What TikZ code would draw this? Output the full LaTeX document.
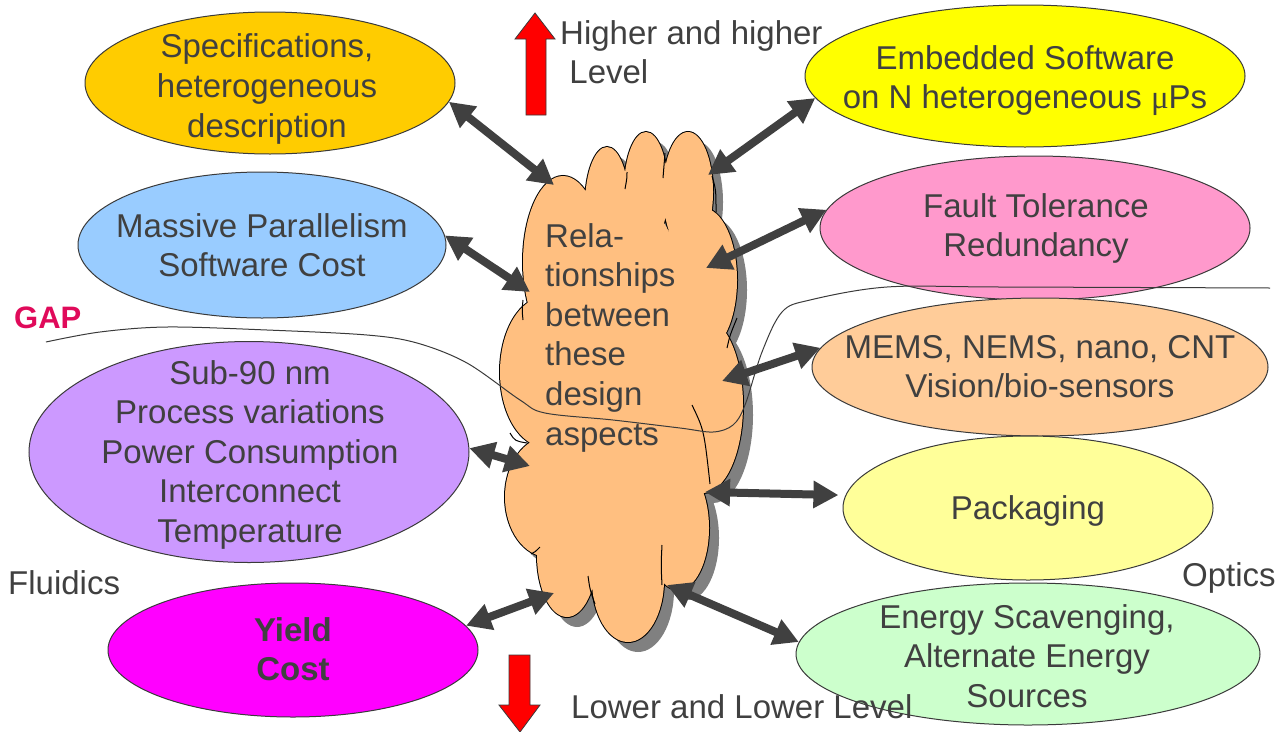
\documentclass[tikz,border=0pt]{standalone}
\usepackage{fontspec}
\setmainfont{Liberation Sans}
\newfontfamily\greekserif{Liberation Serif}
\usetikzlibrary{shapes.geometric,arrows.meta}

\definecolor{txtgray}{HTML}{404040}
\definecolor{edgegray}{HTML}{3A3A3A}
\definecolor{arrgray}{HTML}{404040}
\definecolor{cSpec}{HTML}{FFCC00}
\definecolor{cPar}{HTML}{99CCFF}
\definecolor{cSub}{HTML}{CC99FF}
\definecolor{cYield}{HTML}{FF00FF}
\definecolor{cEmb}{HTML}{FFFF00}
\definecolor{cFault}{HTML}{FF99CC}
\definecolor{cMems}{HTML}{FFCC99}
\definecolor{cPack}{HTML}{FFFF99}
\definecolor{cEnergy}{HTML}{CCFFCC}
\definecolor{cCloud}{HTML}{FFBF80}
\definecolor{cShadow}{HTML}{808080}
\definecolor{cGap}{HTML}{E00A5A}

% union of puffs forming the central cloud
\newcommand\cloudpuffs{%
  (563,262) ellipse [x radius=40pt, y radius=86pt]
  (607,205) ellipse [x radius=22pt, y radius=58pt]
  (646,190) ellipse [x radius=22pt, y radius=58pt]
  (688,192) ellipse [x radius=25pt, y radius=60pt]
  (703,280) ellipse [x radius=34pt, y radius=72pt]
  (703,405) ellipse [x radius=40pt, y radius=88pt]
  (678,528) ellipse [x radius=31pt, y radius=62pt]
  (628,580) ellipse [x radius=36pt, y radius=62pt]
  (567,555) ellipse [x radius=30pt, y radius=62pt]
  (548,497) ellipse [x radius=43pt, y radius=60pt]
  (545,372) ellipse [x radius=45pt, y radius=75pt]}
\newcommand\cloudcore{(620,390) ellipse [x radius=80pt, y radius=200pt]}

\tikzset{
  bubble/.style={ellipse, draw=edgegray, line width=1pt, inner sep=0pt},
  bubbletext/.style={text=txtgray, font=\fontsize{33}{39.6}\selectfont,
    align=center, inner sep=0pt, anchor=base, yshift=-2pt},
  plaintext/.style={text=txtgray, font=\fontsize{33}{39.6}\selectfont,
    inner sep=0pt, anchor=base west, yshift=-2pt},
  biarrow/.style={draw=arrgray, line width=8pt,
    {Triangle[length=25pt,width=26pt]}-{Triangle[length=25pt,width=26pt]}},
  levelarrow/.style={fill=red, draw=edgegray, line width=0.8pt},
  puffline/.style={draw=black, line width=1pt},
}

\begin{document}
\begin{tikzpicture}[x=1pt,y=-1pt]
\useasboundingbox (0,0) rectangle (1284,731);

% ---- topic ellipses ----
\node[bubble, fill=cSpec,   minimum width=370pt, minimum height=142pt] (spec)   at (270,83)  {};
\node[bubble, fill=cPar,    minimum width=368pt, minimum height=146pt] (par)    at (262,245) {};
\node[bubble, fill=cSub,    minimum width=440pt, minimum height=221pt] (sub)    at (249,452) {};
\node[bubble, fill=cYield,  minimum width=370pt, minimum height=134pt] (yield)  at (293,650) {};
\node[bubble, fill=cEmb,    minimum width=440pt, minimum height=142pt] (emb)    at (1025,76) {};
\node[bubble, fill=cFault,  minimum width=430pt, minimum height=144pt] (fault)  at (1035,228) {};
\node[bubble, fill=cMems,   minimum width=456pt, minimum height=138pt] (mems)   at (1040,367) {};
\node[bubble, fill=cPack,   minimum width=370pt, minimum height=144pt] (pack)   at (1028,508) {};
\node[bubble, fill=cEnergy, minimum width=464pt, minimum height=142pt] (energy) at (1028,654) {};

% texts are placed by the baseline of their last line
\node[bubbletext] (spec-t)   at (267,135)   {Specifications,\\heterogeneous\\description};
\node[bubbletext] (par-t)    at (262,274.6) {Massive Parallelism\\Software Cost};
\node[bubbletext] (sub-t)    at (250,540.4) {Sub-90 nm\\Process variations\\Power Consumption\\Interconnect\\Temperature};
\node[bubbletext, font=\fontsize{33}{39.6}\selectfont\bfseries] (yield-t) at (293,678.6) {Yield\\Cost};
\node[bubbletext] (emb-t)    at (1025,106.6) {Embedded Software\\on N heterogeneous {\greekserif μ}Ps};
\node[bubbletext] (fault-t)  at (1036,254.6) {Fault Tolerance\\Redundancy};
\node[bubbletext] (mems-t)   at (1040,395.6) {MEMS, NEMS, nano, CNT\\Vision/bio-sensors};
\node[bubbletext] (pack-t)   at (1028,517)   {Packaging};
\node[bubbletext] (energy-t) at (1027,705.2) {Energy Scavenging,\\Alternate Energy\\Sources};

% ---- central cloud with drop shadow ----
\begin{scope}[shift={(10,10)}]
  \fill[cShadow] \cloudpuffs \cloudcore;
\end{scope}
\draw[black, line width=2pt] \cloudpuffs;
\fill[cCloud] \cloudpuffs \cloudcore;
% inner puff seams
\draw[puffline] (627,172) .. controls (627,178) .. (625,189);
\draw[puffline] (665,153) .. controls (664,165) .. (663,178);
\draw[puffline] (712,176) .. controls (716,190) .. (716,212);
\draw[puffline] (727,348) .. controls (730,335) .. (737,318);
\draw[puffline] (692,405) .. controls (704,430) .. (710,484);
\draw[puffline] (662,545) .. controls (661,565) .. (662,585);
\draw[puffline] (588,576) .. controls (590,590) .. (595,604);
\draw[puffline] (531,554) .. controls (535,552) .. (540,547);
\draw[puffline] (510,433) .. controls (515,441) .. (527,443);
\draw[puffline] (523,300) .. controls (522,310) .. (523,320);

\node[plaintext, align=left, anchor=base west] (cloud-t) at (545,443)
  {Rela-\\tionships\\between\\these\\design\\aspects};

% arrow endpoints on the cloud rim
\coordinate (c1) at (554,185);
\coordinate (c2) at (530,292);
\coordinate (c3) at (530,466);
\coordinate (c4) at (554,593);
\coordinate (c5) at (708,175);
\coordinate (c6) at (706,268);
\coordinate (c7) at (722,381);
\coordinate (c8) at (705,492);
\coordinate (c9) at (667,585);

% ---- boundary line between the levels ----
\draw[edgegray, line width=1pt] plot[smooth, tension=0.55] coordinates {
  (46,342) (100,332) (167,327) (267,330) (367,335) (417,343) (467,363)
  (520,400) (545,413) (613,420) (680,428) (713,432) (733,425) (745,405)
  (762,352) (782,312) (810,300) (887,287) (1000,287) (1270,288)};

% ---- relationship arrows ----
\draw[biarrow] (spec.-6)   -- (c1);
\draw[biarrow] (par.3)     -- (c2);
\draw[biarrow] (sub.1)     -- (c3);
\draw[biarrow] (yield.8)   -- (c4);
\draw[biarrow] (emb.186)   -- (c5);
\draw[biarrow] (fault.175) -- (c6);
\draw[biarrow] (mems.175)  -- (c7);
\draw[biarrow, shorten <=7pt] (pack.176) -- (c8);
\draw[biarrow] (energy.177) -- (c9);

% ---- level arrows ----
\draw[levelarrow] (526,115) -- (526,39) -- (515,39) -- (535,13) -- (555,39)
  -- (546,39) -- (546,115) -- cycle;
\draw[levelarrow] (509,655) -- (530,655) -- (530,705) -- (540,705) -- (520,732)
  -- (499,705) -- (509,705) -- cycle;

% ---- free labels ----
\node[plaintext, align=left] (higher) at (560,81.6) {Higher and higher\\\hspace*{9.2pt}Level};
\node[plaintext] (lower) at (571,716) {Lower and Lower Level};
\node[plaintext] (fluidics) at (8,592) {Fluidics};
\node[plaintext] (optics) at (1182,584) {Optics};
\node[plaintext, text=cGap, font=\fontsize{31}{36}\selectfont\bfseries] (gap) at (14,326) {GAP};

\end{tikzpicture}
\end{document}
